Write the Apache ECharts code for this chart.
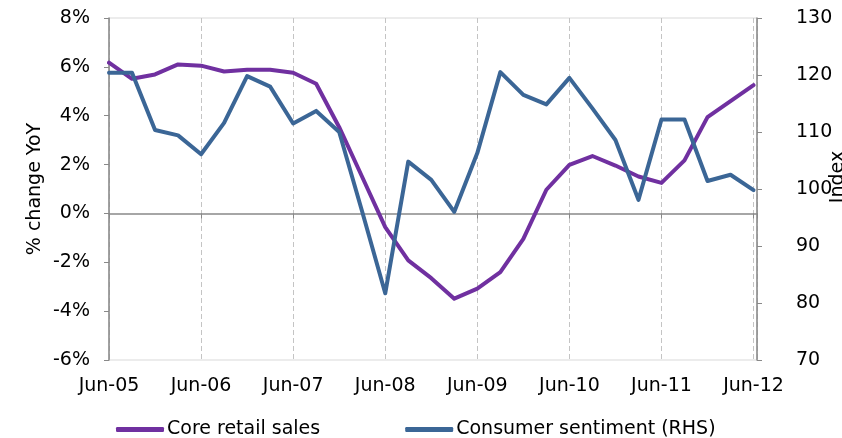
<!DOCTYPE html>
<html>
<head>
<meta charset="utf-8">
<script src="https://cdn.jsdelivr.net/npm/echarts@6/dist/echarts.min.js"></script>
<style>
  html, body { margin: 0; padding: 0; background: #fff; }
  #chart { width: 842px; height: 438px; }
</style>
</head>
<body>
<div id="chart"></div>
<script>
"use strict";
// quarterly points, Jun-05 .. Jun-12
const quarters = ["Jun-05","Sep-05","Dec-05","Mar-06","Jun-06","Sep-06","Dec-06","Mar-07",
  "Jun-07","Sep-07","Dec-07","Mar-08","Jun-08","Sep-08","Dec-08","Mar-09","Jun-09","Sep-09",
  "Dec-09","Mar-10","Jun-10","Sep-10","Dec-10","Mar-11","Jun-11","Sep-11","Dec-11","Mar-12","Jun-12"];
const coreRetail = [6.17, 5.51, 5.69, 6.1, 6.05, 5.81, 5.88, 5.88, 5.76, 5.31, 3.53, 1.49,
  -0.56, -1.92, -2.65, -3.49, -3.08, -2.4, -1.04, 0.97, 1.99, 2.35, 1.96, 1.51, 1.25, 2.17,
  3.94, 4.6, 5.25];
const sentiment = [120.4, 120.4, 110.35, 109.4, 106.1, 111.6, 119.8, 117.95, 111.5, 113.7,
  110.0, 96.0, 81.7, 104.8, 101.6, 96.0, 106.3, 120.5, 116.5, 114.85, 119.5, 114.15, 108.6,
  98.1, 112.2, 112.2, 101.4, 102.5, 99.8];

const COLORS = { retail: "#7030A0", sentiment: "#3B6696", axis: "#898989",
                 border: "#D9D9D9", grid: "#C4C4C4", text: "#000" };
const FONT = "DejaVu Sans";

const chart = echarts.init(document.getElementById("chart"), null, { renderer: "canvas" });
const pts = (arr) => arr.map((v, i) => [i, v]);
const junLabel = (v) => (v % 4 === 0 && quarters[v]) ? quarters[v] : "";

chart.setOption({
  animation: false,
  backgroundColor: "#fff",
  textStyle: { fontFamily: FONT, color: COLORS.text },
  grid: { left: 109, right: 85, top: 18, bottom: 78, show: true, outerBoundsMode: "none",
          borderColor: COLORS.border, borderWidth: 1, backgroundColor: "transparent" },
  legend: {
    left: 111, top: 415, itemGap: 85, itemWidth: 48, itemHeight: 5,
    icon: "roundRect",
    textStyle: { fontFamily: FONT, fontSize: 19, color: COLORS.text, padding: [0, 0, 0, -2] },
    data: ["Core retail sales", "Consumer sentiment (RHS)"]
  },
  xAxis: [
    { type: "value", min: 0, max: 28.15, interval: 4, position: "bottom",
      axisLine: { onZero: false, show: false }, axisTick: { show: false },
      axisLabel: { margin: 17, fontSize: 19, color: COLORS.text, formatter: junLabel,
                   showMaxLabel: false },
      splitLine: { show: true, lineStyle: { color: COLORS.grid, type: [5, 3], width: 1 } } },
    { type: "value", min: 0, max: 28.15, interval: 4, position: "bottom",
      axisLine: { onZero: true, show: true, lineStyle: { color: COLORS.axis, width: 1.5 } },
      axisTick: { show: true, inside: false, length: 5, lineStyle: { color: COLORS.axis } },
      axisLabel: { show: false }, splitLine: { show: false } }
  ],
  yAxis: [
    { type: "value", min: -6, max: 8, interval: 2, position: "left",
      name: "% change YoY", nameLocation: "middle", nameGap: 64, nameRotate: 90,
      nameMoveOverlap: false,
      nameTextStyle: { fontFamily: FONT, fontSize: 19, color: COLORS.text },
      axisLine: { show: true, onZero: false, lineStyle: { color: COLORS.axis, width: 1.5 } },
      axisTick: { show: true, length: 5, lineStyle: { color: COLORS.axis } },
      axisLabel: { margin: 19, fontSize: 19, color: COLORS.text, formatter: (v) => v + "%" },
      splitLine: { show: false } },
    { type: "value", min: 70, max: 130, interval: 10, position: "right",
      name: "Index", nameLocation: "middle", nameGap: 72, nameRotate: 90,
      nameMoveOverlap: false,
      nameTextStyle: { fontFamily: FONT, fontSize: 19, color: COLORS.text, padding: [0, 0, 0, 24] },
      axisLine: { show: true, onZero: false, lineStyle: { color: COLORS.axis, width: 1.5 } },
      axisTick: { show: true, length: 5, lineStyle: { color: COLORS.axis } },
      axisLabel: { margin: 39, fontSize: 19, color: COLORS.text },
      splitLine: { show: false } }
  ],
  series: [
    { name: "Core retail sales", type: "line", xAxisIndex: 0, yAxisIndex: 0,
      data: pts(coreRetail), showSymbol: false, color: COLORS.retail,
      lineStyle: { width: 4, color: COLORS.retail, cap: "round", join: "round" } },
    { name: "Consumer sentiment (RHS)", type: "line", xAxisIndex: 0, yAxisIndex: 1,
      data: pts(sentiment), showSymbol: false, color: COLORS.sentiment,
      lineStyle: { width: 4, color: COLORS.sentiment, cap: "round", join: "round" } }
  ]
});
</script>
</body>
</html>
